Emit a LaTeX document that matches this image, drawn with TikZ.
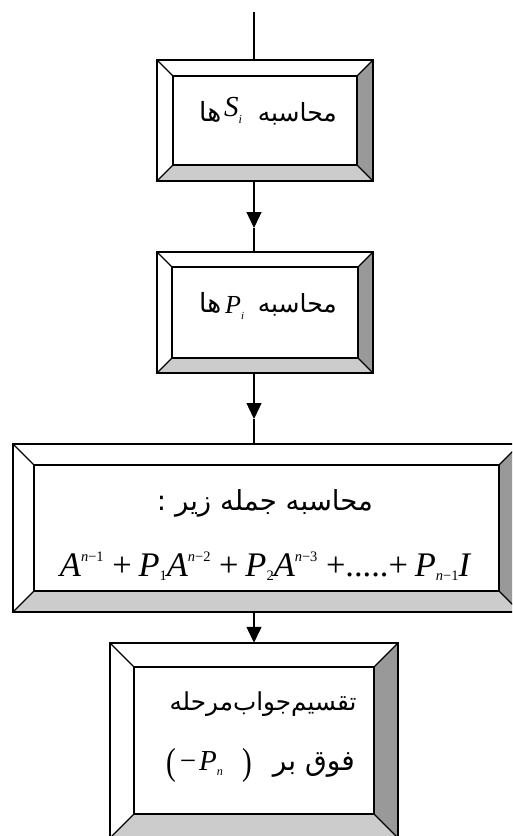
\documentclass[tikz,border=0pt]{standalone}
\usepackage{fontspec}
\usepackage{graphicx}
\usetikzlibrary{arrows.meta,fit}
\TeXXeTstate=1
\newfontfamily\arabicfont[Script=Arabic]{DejaVu Sans}
\newfontfamily\tms{Liberation Serif}
\definecolor{bevright}{gray}{0.6}
\definecolor{bevbottom}{gray}{0.8}
\tikzset{
  edge/.style={line width=1.3pt, line join=miter},
  conn/.style={line width=1.3pt},
  arr/.style={line width=1.3pt, -{Triangle[width=15pt,length=16pt]}},
  lbl/.style={inner sep=0pt},
}
% subscript: #1 lowering, #2 text
\newcommand\sbs[2]{\raisebox{-#1}{\fontsize{0.42em}{0.5em}\selectfont #2}}
\newcommand\sps[1]{\raisebox{0.42em}{\fontsize{0.42em}{0.5em}\selectfont #1}}
% #1 name, #2 x1, #3 y1, #4 x2, #5 y2, #6 bevel
\newcommand\bevelbox[6]{%
  \fill[white] (#2,#3) rectangle (#4,#5);
  \fill[bevright] (#4,#3) -- (#4,#5) -- ({#4-#6},{#5-#6}) -- ({#4-#6},{#3+#6}) -- cycle;
  \fill[bevbottom] (#2,#5) -- (#4,#5) -- ({#4-#6},{#5-#6}) -- ({#2+#6},{#5-#6}) -- cycle;
  \draw[edge] (#2,#3) rectangle (#4,#5);
  \draw[edge] ({#2+#6},{#3+#6}) rectangle ({#4-#6},{#5-#6});
  \draw[edge] (#2,#3) -- ({#2+#6},{#3+#6});
  \draw[edge] (#4,#3) -- ({#4-#6},{#3+#6});
  \draw[edge] (#2,#5) -- ({#2+#6},{#5-#6});
  \draw[edge] (#4,#5) -- ({#4-#6},{#5-#6});
  \node[fit={(#2,#3) (#4,#5)}, inner sep=0pt] (#1) {};
}
\begin{document}
\begin{tikzpicture}[x=1pt,y=-1pt]
\useasboundingbox (0,0) rectangle (512,836);
\clip (0,0) rectangle (512,836);
\fill[white] (0,0) rectangle (512,836);

\bevelbox{b1}{157}{60}{373}{181}{16}
\bevelbox{b2}{157}{252}{373}{373}{15}
\bevelbox{b3}{13}{444}{520}{612}{21}
\bevelbox{b4}{110}{643}{398}{838}{24}

% box 1
\node[lbl, anchor=base east] (w1a) at (337,121) {\resizebox{79pt}{!}{\arabicfont\beginR محاسبه\endR}};
\node[lbl, anchor=base west] (w1b) at (224,116) {\tms\fontsize{29}{31}\selectfont\itshape S\sbs{0.26em}{i}};
\node[lbl, anchor=base west] (w1c) at (199,121) {\resizebox{22pt}{!}{\arabicfont\beginR ها\endR}};
% box 2
\node[lbl, anchor=base east] (w2a) at (337,312) {\resizebox{79pt}{!}{\arabicfont\beginR محاسبه\endR}};
\node[lbl, anchor=base west] (w2b) at (225,313) {\tms\fontsize{26}{28}\selectfont\itshape P\sbs{0.25em}{i}};
\node[lbl, anchor=base west] (w2c) at (199,312) {\resizebox{22pt}{!}{\arabicfont\beginR ها\endR}};
% box 3
\node[lbl, anchor=base] (w3a) at (265,510) {\resizebox{216pt}{!}{\arabicfont\beginR محاسبه جمله زیر :\endR}};
\node[lbl, anchor=base] (w3b) at (265,576) {\resizebox{410pt}{!}{\tms\fontsize{30}{32}\selectfont\itshape
  A\sps{n\textup{−1}}\hspace{0.25em}\textup{+}\hspace{0.2em}P\sbs{0.12em}{\textup{1}}A\sps{n\textup{−2}}\hspace{0.25em}\textup{+}\hspace{0.2em}P\sbs{0.12em}{\textup{2}}A\sps{n\textup{−3}}\hspace{0.25em}\textup{+.....+}\hspace{0.2em}P\sbs{0.12em}{n\textup{−1}}I}};
% box 4
\node[lbl, anchor=base] (w4a) at (263,710) {\resizebox{187pt}{!}{\arabicfont\beginR تقسیم‌جواب‌مرحله\endR}};
\node[lbl, anchor=base east] (w4b) at (355,770) {\resizebox{82pt}{!}{\arabicfont\beginR فوق بر\endR}};
\node[lbl, anchor=base west] (w4c) at (166,770) {\tms\fontsize{29}{31}\selectfont
  \raisebox{-0.14em}{\scalebox{1}[1.3]{(}}\hspace{4pt}−\hspace{3pt}\textit{P}\sbs{0.2em}{\textit{n}}\hspace{19pt}\raisebox{-0.14em}{\scalebox{1}[1.3]{)}}};

\coordinate (top) at (254,12);
\coordinate (t1) at (254,228);
\coordinate (t2) at (254,419);
\draw[conn] (top) -- (top |- b1.north);
\draw[arr] (t1 |- b1.south) -- (t1);
\draw[conn] (t1) -- (t1 |- b2.north);
\draw[arr] (t2 |- b2.south) -- (t2);
\draw[conn] (t2) -- (t2 |- b3.north);
\draw[arr] (t2 |- b3.south) -- (b4.north);
\end{tikzpicture}
\end{document}
